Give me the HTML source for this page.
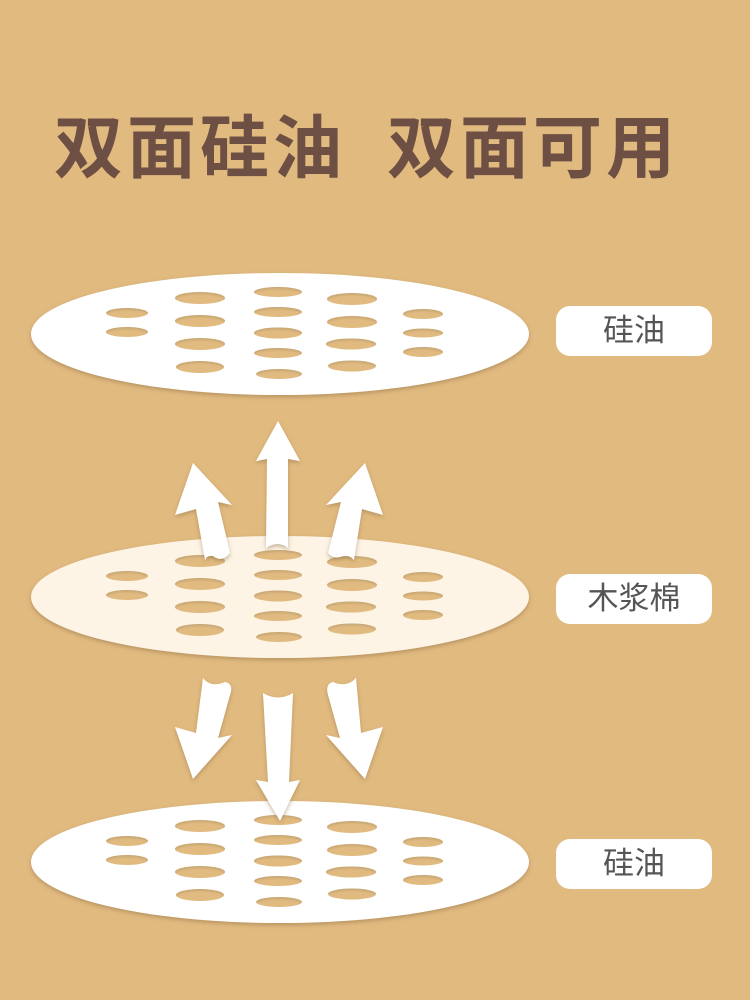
<!DOCTYPE html>
<html><head><meta charset="utf-8"><style>
html,body{margin:0;padding:0}
body{width:750px;height:1000px;background:#e1ba80;position:relative;overflow:hidden;font-family:"Liberation Sans","Noto Sans CJK SC",sans-serif}
.t{position:absolute;top:104px;font-size:69px;font-weight:bold;color:#6e4f43;letter-spacing:4px;line-height:90px;white-space:nowrap}
.lab{position:absolute;left:556px;width:156px;height:50px;background:#fff;border-radius:14px;text-align:center;line-height:50px;font-size:31px;color:#555}
svg{position:absolute;left:0;top:0}
</style></head><body>
<div class="t" style="left:54px">双面硅油</div>
<div class="t" style="left:387px">双面可用</div>
<svg width="750" height="1000" viewBox="0 0 750 1000">
<defs>
<filter id="sh" x="-20%" y="-20%" width="140%" height="140%"><feDropShadow dx="0" dy="2" stdDeviation="2" flood-color="#8a6a3a" flood-opacity="0.5"/></filter>
<filter id="ih"><feOffset dy="2"/><feGaussianBlur stdDeviation="1"/><feComposite operator="out" in="SourceGraphic"/><feColorMatrix values="0 0 0 0 0.45 0 0 0 0 0.32 0 0 0 0 0.15 0 0 0 0.6 0"/><feComposite operator="over" in2="SourceGraphic"/></filter>
<g id="holes" fill="#e1ba80">
<ellipse cx="127" cy="-21" rx="21" ry="5"/><ellipse cx="127" cy="-2" rx="21" ry="5"/>
<ellipse cx="200" cy="-36" rx="25" ry="6"/><ellipse cx="200" cy="-13" rx="25" ry="6"/><ellipse cx="200" cy="10" rx="25" ry="6"/><ellipse cx="200" cy="33" rx="24" ry="6"/>
<ellipse cx="278" cy="-42" rx="24" ry="5"/><ellipse cx="278" cy="-22" rx="24" ry="5"/><ellipse cx="278" cy="-1" rx="24" ry="5.5"/><ellipse cx="278" cy="19" rx="24" ry="5"/><ellipse cx="279" cy="40" rx="23" ry="5"/>
<ellipse cx="352" cy="-35" rx="25" ry="6"/><ellipse cx="352" cy="-12" rx="25" ry="6"/><ellipse cx="351" cy="10" rx="25" ry="5.5"/><ellipse cx="352" cy="32" rx="24" ry="5.5"/>
<ellipse cx="423" cy="-20" rx="20" ry="5"/><ellipse cx="423" cy="-1" rx="20" ry="4.5"/><ellipse cx="423" cy="18" rx="20" ry="5"/>
</g>
</defs>
<g filter="url(#sh)"><ellipse cx="280" cy="334" rx="249" ry="61" fill="#fff"/></g>
<g transform="translate(0,334)" filter="url(#ih)"><use href="#holes"/></g>
<g filter="url(#sh)"><ellipse cx="280" cy="597" rx="249" ry="61" fill="#fdf4e6"/></g>
<g transform="translate(0,597)" filter="url(#ih)"><use href="#holes"/></g>
<g filter="url(#sh)"><ellipse cx="280" cy="862" rx="249" ry="61" fill="#fff"/></g>
<g transform="translate(0,862)" filter="url(#ih)"><use href="#holes"/></g>
<g fill="#fff" filter="url(#sh)">
<path d="M278,421 L300,461 L288,459 L288,548 Q278,540 266,548 L267,459 L256,461 Z"/>
<path d="M193,463 L232,505 L218,502 L230,553 Q222,563 213,556 Q207,555 205,560 L196,509 L175,515 Z"/>
<path d="M365,463 L383,515 L362,509 L354,560 Q350,555 343,556 Q334,560 328,553 L341,502 L326,505 Z"/>
<path d="M203,678 Q210,688 225,682 Q234,684 230,695 L218,738 L232,735 L193,779 L175,727 L196,733 Z"/>
<path d="M263,693 Q278,702 293,693 L289,782 L300,780 L280,821 L256,780 L268,782 Z"/>
<path d="M356,678 L361,733 L383,727 L365,779 L326,735 L340,738 L328,695 Q325,684 333,682 Q347,688 356,678 Z"/>
</g>
</svg>
<div class="lab" style="top:306px">硅油</div>
<div class="lab" style="top:574px">木浆棉</div>
<div class="lab" style="top:839px">硅油</div>
</body></html>
